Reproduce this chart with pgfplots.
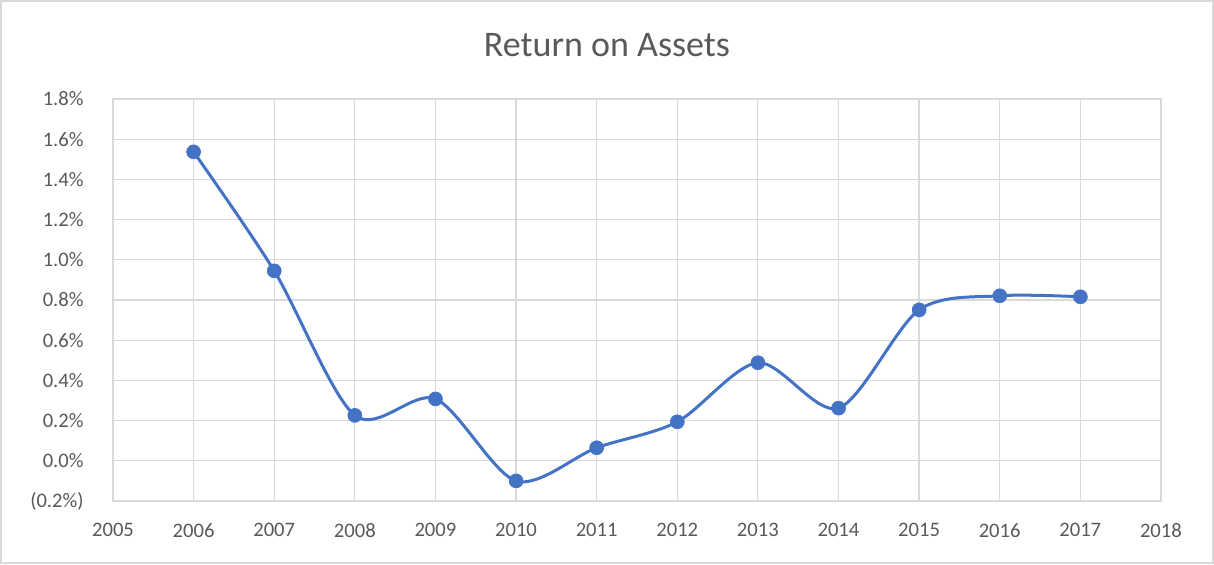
\documentclass[border=0pt]{standalone}
\usepackage{pgfplots}
\pgfplotsset{compat=1.18}
\usepackage{fontspec}
\setmainfont{Carlito}
\definecolor{lineblue}{HTML}{4472C4}
\definecolor{gridgray}{HTML}{D9D9D9}
\definecolor{txtgray}{HTML}{595959}
\begin{document}
\begin{tikzpicture}
\begin{axis}[
  scale only axis,
  width=524pt, height=201pt,
  xmin=2005, xmax=2018, ymin=-0.2, ymax=1.8,
  xtick={2005,...,2018},
  xticklabels={2005,2006,2007,2008,2009,2010,2011,2012,2013,2014,2015,2016,2017,2018},
  ytick={-0.2,0,0.2,0.4,0.6,0.8,1.0,1.2,1.4,1.6,1.8},
  yticklabels={(0.2\%),0.0\%,0.2\%,0.4\%,0.6\%,0.8\%,1.0\%,1.2\%,1.4\%,1.6\%,1.8\%},
  /pgf/number format/assume math mode=true,
  grid=major,
  major grid style={gridgray, line width=0.6pt},
  axis line style={gridgray, line width=0.6pt},
  major tick length=0pt,
  tick style={draw=none},
  ticklabel style={font=\fontsize{10.3pt}{12pt}\selectfont, text=txtgray, inner sep=0pt},
  yticklabel style={anchor=east, xshift=-14.5pt},
  xticklabel style={anchor=north, yshift=-11pt},
  clip=false,
]
\addplot[color=lineblue, line width=1.5pt, smooth, tension=0.5,
  mark=*, mark size=3.5pt, mark options={fill=lineblue, draw=lineblue, line width=0.3pt}]
  coordinates {
  (2006,1.537) (2007,0.945) (2008,0.226) (2009,0.308) (2010,-0.100)
  (2011,0.065) (2012,0.194) (2013,0.488) (2014,0.262) (2015,0.751)
  (2016,0.821) (2017,0.816)
  };
\coordinate (O) at (rel axis cs:0,0);
\end{axis}
\node[text=txtgray, font=\fontsize{18pt}{21pt}\selectfont] at ([xshift=247pt, yshift=228pt]O) {Return on Assets};
\draw[gridgray, line width=0.8pt] ([xshift=-56pt, yshift=-31pt]O) rectangle ([xshift=550pt, yshift=250pt]O);
\path[use as bounding box] ([xshift=-56.5pt, yshift=-31.5pt]O) rectangle ([xshift=550.5pt, yshift=250.5pt]O);
\end{tikzpicture}
\end{document}
